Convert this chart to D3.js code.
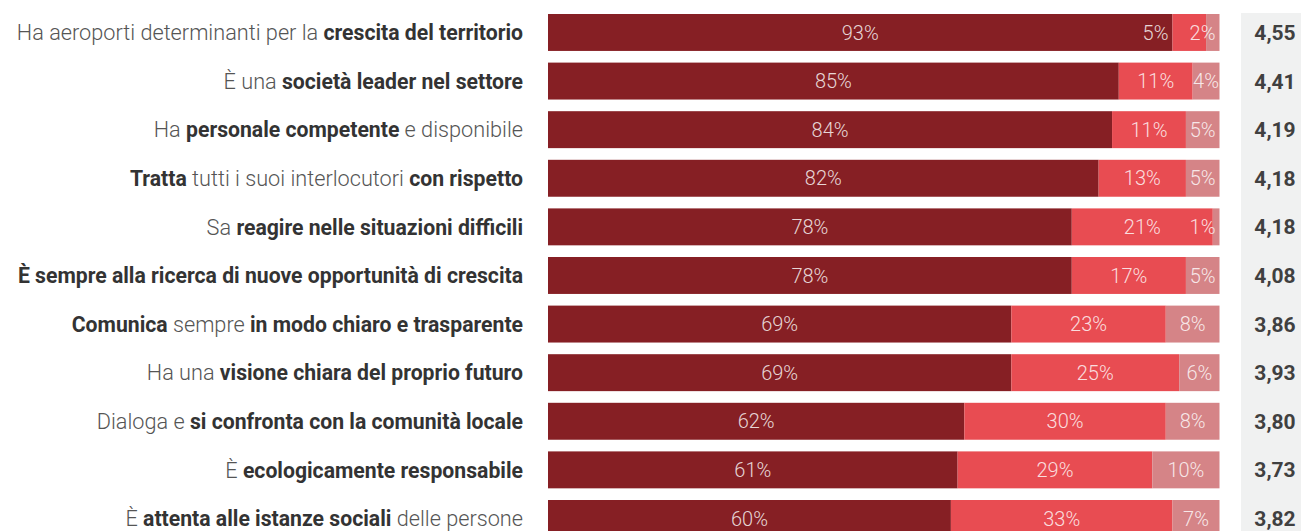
<!DOCTYPE html>
<html><head><meta charset="utf-8">
<script src="https://cdn.jsdelivr.net/npm/d3@7"></script>
<style>
html,body{margin:0;padding:0;background:#fff;overflow:hidden;}
svg{display:block;font-family:Roboto,"Noto Sans",sans-serif;}
</style></head>
<body>
<svg id="chart" width="1301" height="531"></svg>
<script>
const categories = [
  "Ha aeroporti determinanti per la **crescita del territorio**",
  "È una **società leader nel settore**",
  "Ha **personale competente** e disponibile",
  "**Tratta** tutti i suoi interlocutori **con rispetto**",
  "Sa **reagire nelle situazioni difficili**",
  "**È sempre alla ricerca di nuove opportunità di crescita**",
  "**Comunica** sempre **in modo chiaro e trasparente**",
  "Ha una **visione chiara del proprio futuro**",
  "Dialoga e **si confronta con la comunità locale**",
  "È **ecologicamente responsabile**",
  "È **attenta alle istanze sociali** delle persone"
];
const positive = [93, 85, 84, 82, 78, 78, 69, 69, 62, 61, 60];
const neutral  = [5, 11, 11, 13, 21, 17, 23, 25, 30, 29, 33];
const negative = [2, 4, 5, 5, 1, 5, 8, 6, 8, 10, 7];
const scores   = ["4,55", "4,41", "4,19", "4,18", "4,18", "4,08", "3,86", "3,93", "3,80", "3,73", "3,82"];
const colors = ["#861f24", "#e84c52", "#d58487"];

const svg = d3.select("#chart");
const step = 48.6, pad = 0.24;
const y = d3.scaleBand().domain(categories)
  .range([14, 14 + step * (categories.length - pad)])
  .paddingInner(pad).paddingOuter(0);
const x = d3.scaleLinear().domain([0, 100]).range([548, 1219.5]);

// score column background
svg.append("rect").attr("x", 1241).attr("y", 13).attr("width", 60).attr("height", 531 - 13)
  .attr("fill", "#f0f1f1");

const rows = categories.map((c, i) => {
  const vals = [positive[i], neutral[i], negative[i]];
  let acc = 0;
  return {cat: c, score: scores[i], segs: vals.map((v, k) => { const s = {x0: acc, x1: acc + v, v, k, cat: c}; acc += v; return s; })};
});

const g = svg.selectAll("g.row").data(rows).join("g").attr("class", "row");

g.selectAll("rect").data(d => d.segs).join("rect")
  .attr("x", d => x(d.x0))
  .attr("y", d => y(d.cat))
  .attr("width", d => x(d.x1) - x(d.x0))
  .attr("height", y.bandwidth())
  .attr("fill", d => colors[d.k]);

// value labels: centred; if too wide for segment, right-aligned at bar end;
// if colliding with the next label, pushed to end before its own segment.
g.each(function(d) {
  const row = d3.select(this);
  const texts = row.selectAll("text.val").data(d.segs).join("text")
    .attr("class", "val")
    .attr("y", s => y(s.cat) + y.bandwidth() / 2)
    .attr("dy", "0.36em")
    .attr("text-anchor", "middle")
    .attr("font-size", 20)
    .attr("font-weight", 300)
    .attr("fill", "rgba(255,255,255,0.82)")
    .text(s => s.v + "%");
  const nodes = texts.nodes();
  let nextLeft = Infinity;
  for (let k = nodes.length - 1; k >= 0; k--) {
    const s = d.segs[k];
    const w = nodes[k].getComputedTextLength();
    const segW = x(s.x1) - x(s.x0);
    let cx = (x(s.x0) + x(s.x1)) / 2;
    if (w > segW) cx = Math.min(cx, x(100) - 4 - w / 2);
    if (cx + w / 2 > nextLeft - 4) cx = Math.min(x(s.x0) - 4, nextLeft - 4) - w / 2;
    d3.select(nodes[k]).attr("x", cx);
    nextLeft = cx - w / 2;
  }
});

// labels
g.append("text")
  .attr("x", 523)
  .attr("y", d => y(d.cat) + y.bandwidth() / 2)
  .attr("dy", "0.36em")
  .attr("text-anchor", "end")
  .attr("font-size", 21.3)
  .each(function(d) {
    const t = d3.select(this);
    d.cat.split("**").forEach((part, j) => {
      if (!part) return;
      t.append("tspan").text(part)
        .attr("font-weight", j % 2 ? 700 : 300)
        .attr("font-size", j % 2 ? 21.2 : 21.7)
        .attr("fill", j % 2 ? "#333333" : "#555555");
    });
  });

// scores
g.append("text")
  .attr("x", 1275)
  .attr("y", d => y(d.cat) + y.bandwidth() / 2)
  .attr("dy", "0.36em")
  .attr("text-anchor", "middle")
  .attr("font-size", 21)
  .attr("font-weight", 700)
  .attr("fill", "#404040")
  .text(d => d.score);
</script>
</body></html>
